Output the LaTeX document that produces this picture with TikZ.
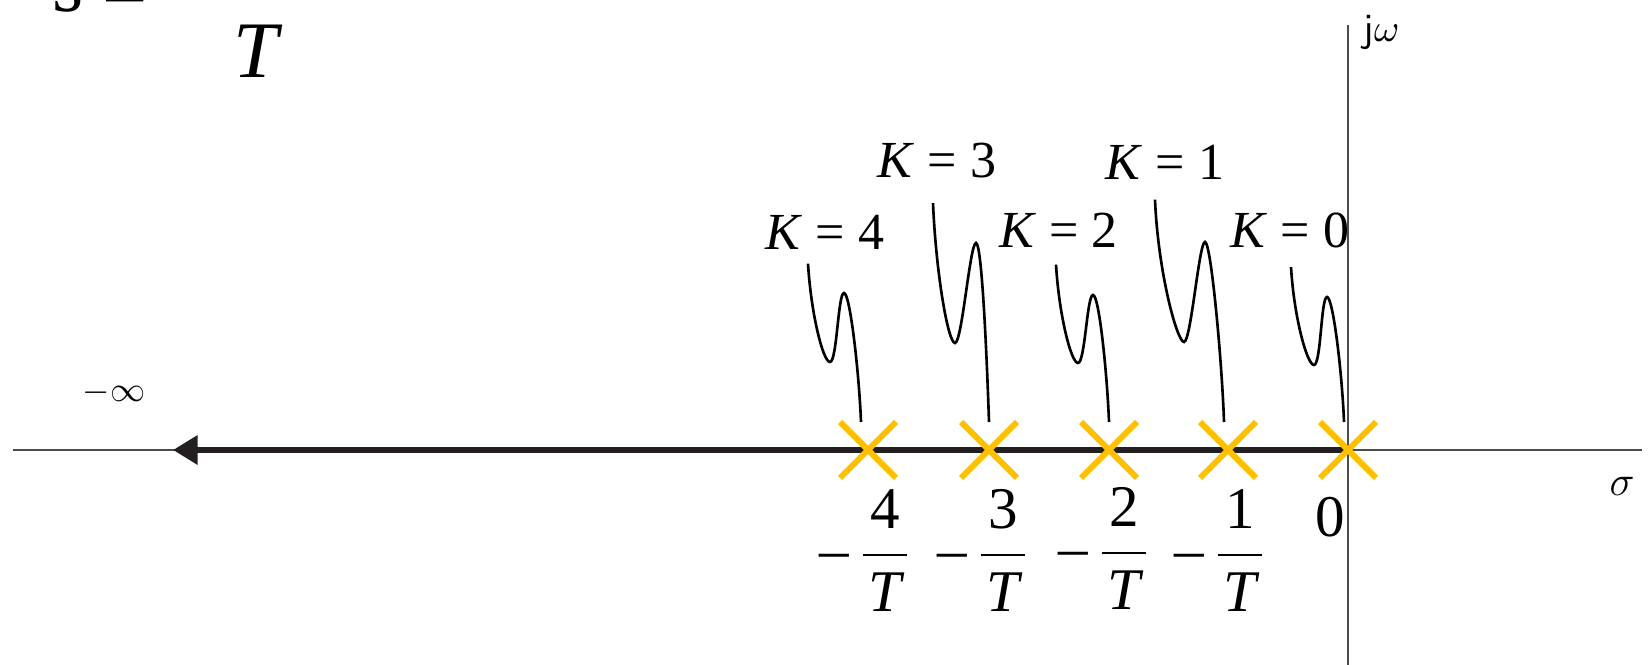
\documentclass[tikz,border=0pt]{standalone}
\usepackage{amsmath}
\usepackage{fontspec}
\setmainfont{Liberation Serif}
\usetikzlibrary{arrows.meta,shapes.misc}
\definecolor{amber}{HTML}{FFC000}
\definecolor{ink}{HTML}{231F20}
\newcommand{\negfrac}[1]{\textendash\,$\dfrac{\text{\kern1.6pt#1\kern1.6pt}}{\text{\kern1.6pt\itshape T\kern1.6pt}}$}

\begin{document}
\begin{tikzpicture}[>=Stealth,
    axis/.style={black!70, line width=0.6pt},
    locus/.style={ink, line width=1.9pt},
    pole/.style={cross out, draw=amber, line width=1.7pt, minimum size=0.5cm, inner sep=0pt},
    leader/.style={line width=0.75pt},
    gain/.style={font=\fontsize{14.8}{17}\selectfont, inner sep=0pt, anchor=base},
    tick/.style={font=\fontsize{16.8}{20}\selectfont, inner sep=0pt, anchor=base west},
    big/.style={font=\fontsize{22.8}{27}\selectfont, inner sep=0pt, anchor=base west}]
    \useasboundingbox (0, 0) rectangle (16.49, 6.65);
    \clip (0, 0) rectangle (16.49, 6.65);

    % 被裁掉的公式 s = -1/T
    \node[big] (svar) at (0.52, 6.53) {s};
    \node[big] (seq) at (1.02, 6.46) {=};
    \node[big] (sden) at (2.33, 5.87) {\textit{T}};

    % 坐标轴
    \coordinate (o) at (13.48, 2.15);
    \coordinate (tip) at (1.73, 2.15);
    \draw[axis] (0.13, 2.15) -- (16.42, 2.15);
    \draw[axis] (13.48, 6.40) -- (13.48, 0);
    \node[font=\fontsize{11.5}{14}\selectfont, inner sep=0pt] (sig) at (16.22, 1.79) {$\sigma$};
    \node[font=\fontsize{11.4}{14}\selectfont, inner sep=0pt, anchor=west] (jw) at (13.63, 6.32) {\textsf{j}$\omega$};

    % 根轨迹及 -oo
    \draw[locus, -{Triangle[length=7pt, width=8pt]}] (o) -- (tip);
    \node[font=\fontsize{10}{12}\selectfont, inner sep=0pt] (minf) at (1.14, 2.72) {$-\infty$};

    % 极点
    \node[pole] (p4) at (8.68, 2.15) {};
    \node[pole] (p3) at (9.89, 2.15) {};
    \node[pole] (p2) at (11.09, 2.15) {};
    \node[pole] (p1) at (12.28, 2.15) {};
    \node[pole] (p0) at (o) {};

    % 横轴刻度
    \node[tick] (f4) at (8.19, 0.95) {\negfrac{4}};
    \node[tick] (f3) at (9.37, 0.95) {\negfrac{3}};
    \node[tick] (f2) at (10.58, 0.97) {\negfrac{2}};
    \node[tick] (f1) at (11.74, 0.95) {\negfrac{1}};
    \node[tick] (f0) at (13.15, 1.28) {0};

    % 增益标注及引线
    \node[gain] (k4) at (8.25, 4.15) {\textit{K} = 4};
    \node[gain] (k3) at (9.37, 4.87) {\textit{K} = 3};
    \node[gain] (k2) at (10.585, 4.17) {\textit{K} = 2};
    \node[gain] (k1) at (11.65, 4.85) {\textit{K} = 1};
    \node[gain] (k0) at (12.90, 4.17) {\textit{K} = 0};
    \draw[leader] ([shift={(-0.17,-0.13)}]k4.south) .. controls +(0.03,-0.5) and +(-0.07,0) .. (8.30, 3.03)
        .. controls +(0.07,0) and +(-0.06,0) .. (8.44, 3.72) .. controls +(0.06,0) and +(-0.02,0.5) .. ([xshift=-0.07cm]p4.north);
    \draw[leader] ([shift={(-0.04,-0.24)}]k3.south) .. controls +(0.03,-0.7) and +(-0.07,0) .. (9.55, 3.22)
        .. controls +(0.07,0) and +(-0.06,0) .. (9.76, 4.22) .. controls +(0.06,0) and +(-0.02,0.6) .. (p3.north);
    \draw[leader] ([shift={(-0.025,-0.16)}]k2.south) .. controls +(0.03,-0.5) and +(-0.07,0) .. (10.78, 3.02)
        .. controls +(0.07,0) and +(-0.06,0) .. (10.93, 3.70) .. controls +(0.06,0) and +(-0.02,0.5) .. (p2.north);
    \draw[leader] ([shift={(-0.10,-0.19)}]k1.south) .. controls +(0.03,-0.72) and +(-0.07,0) .. (11.84, 3.23)
        .. controls +(0.07,0) and +(-0.06,0) .. (12.05, 4.23) .. controls +(0.06,0) and +(-0.02,0.6) .. ([xshift=-0.04cm]p1.north);
    \draw[leader] ([shift={(0.01,-0.18)}]k0.south) .. controls +(0.03,-0.5) and +(-0.07,0) .. (13.14, 3.00)
        .. controls +(0.07,0) and +(-0.06,0) .. (13.27, 3.68) .. controls +(0.06,0) and +(-0.02,0.5) .. ([xshift=-0.04cm]p0.north);
\end{tikzpicture}
\end{document}
